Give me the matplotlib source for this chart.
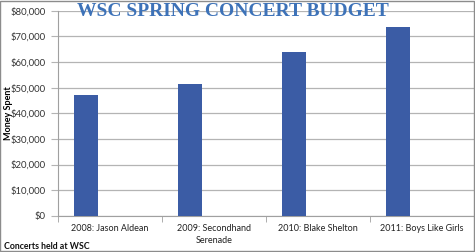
import numpy as np
import matplotlib
matplotlib.use("Agg")
import matplotlib.pyplot as plt
from matplotlib.patches import Rectangle
from matplotlib.ticker import FuncFormatter, FixedLocator

concerts = ["2008: Jason Aldean", "2009: Secondhand\nSerenade",
            "2010: Blake Shelton", "2011: Boys Like Girls"]
spent = [47000, 51500, 64000, 73800]


def main():
    plt.rcParams["font.family"] = ["Lato", "DejaVu Sans"]
    fig = plt.figure(figsize=(4.75, 2.52), dpi=100)
    ax = fig.add_axes([58 / 475, 36.3 / 252, 416 / 475, 204.8 / 252])

    x = np.arange(len(concerts))
    ax.bar(x - 0.23, spent, width=0.226, color="#3b5ca5", zorder=3)

    ax.set_xlim(-0.5, len(concerts) - 0.5)
    ax.set_ylim(0, 80000)
    ax.set_yticks(np.arange(0, 80001, 10000))
    ax.yaxis.set_major_formatter(FuncFormatter(lambda v, p: f"${v:,.0f}"))
    ax.grid(axis="y", color="#b4b4b4", lw=0.9, zorder=0)

    ax.set_xticks(x)
    ax.set_xticklabels(concerts, fontsize=6.5, color="#222222", linespacing=1.45)
    ax.xaxis.set_minor_locator(FixedLocator(np.arange(-0.5, len(concerts), 1.0)))
    ax.tick_params(axis="x", which="major", length=0, pad=6)
    ax.tick_params(axis="x", which="minor", length=4, color="#a0a0a0")
    ax.tick_params(axis="y", length=5, color="#b4b4b4", labelsize=6.8,
                   labelcolor="#333333", pad=4)

    for s in ["top", "right"]:
        ax.spines[s].set_visible(False)
    ax.spines["left"].set_color("#a0a0a0")
    ax.spines["bottom"].set_color("#a0a0a0")

    ax.set_ylabel("Money Spent", fontsize=6.5, fontweight="bold")
    ax.yaxis.set_label_coords(-0.108, 0.5)

    fig.text(0.49, 0.955, "WSC SPRING CONCERT BUDGET", ha="center", va="center",
             fontsize=14, fontweight="bold", color="#3d72b8",
             family=["Liberation Serif", "DejaVu Serif"])
    fig.text(0.008, 0.022, "Concerts held at WSC", ha="left", va="center",
             fontsize=6.3, fontweight="bold", color="#111111")

    fig.patches.append(Rectangle((0.001, 0.003), 0.997, 0.994, transform=fig.transFigure,
                                 fill=False, edgecolor="#8c8c8c", lw=1))

    fig.savefig("out.png", dpi=100)


if __name__ == "__main__":
    main()
